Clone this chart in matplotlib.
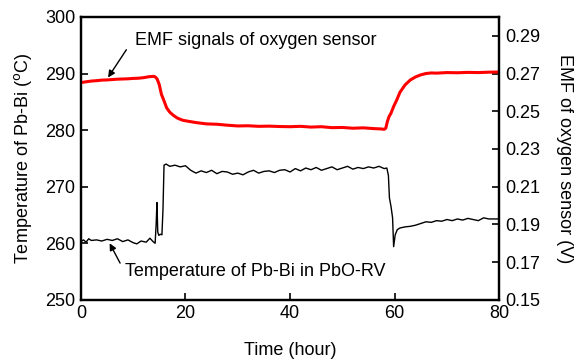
import matplotlib
matplotlib.use("Agg")
import matplotlib.pyplot as plt

plt.rcParams['font.family'] = ['Liberation Sans', 'DejaVu Sans']
plt.rcParams['font.size'] = 13

# EMF of oxygen sensor (V)
emf_time = [0, 1, 2, 3, 4, 5, 6, 7, 8, 9, 10, 11, 12, 13, 14,
            14.3, 14.6, 15.0, 15.4, 15.9, 16.4, 17.0, 17.7, 18.5, 19.5, 20.5,
            22, 24, 26, 28, 30, 32, 34, 36, 38, 40, 42, 44, 46, 48, 50, 52, 54, 56,
            57.5, 58.0, 58.3, 58.6, 58.9, 59.3, 59.8, 60.4, 61.0,
            62, 63, 64, 65, 66, 67, 68,
            70, 72, 74, 76, 78, 80]
emf_volt = [0.2652, 0.2656, 0.2660, 0.2662, 0.2665, 0.2666, 0.2668, 0.2670,
            0.2671, 0.2672, 0.2674, 0.2675, 0.2678, 0.2683, 0.2685,
            0.2680, 0.2670, 0.2640, 0.2590, 0.2555, 0.2518, 0.2495, 0.2478,
            0.2463, 0.2452, 0.2447,
            0.2440, 0.2433, 0.2431, 0.2426, 0.2422, 0.2423, 0.2420, 0.2421,
            0.2419, 0.2418, 0.2420, 0.2416, 0.2418, 0.2413, 0.2414, 0.2410,
            0.2412, 0.2408,
            0.2406, 0.2404, 0.2410, 0.2445, 0.2470, 0.2490, 0.2525, 0.2560, 0.2600,
            0.2640, 0.2666, 0.2682, 0.2693, 0.2700, 0.2703, 0.2702,
            0.2705, 0.2704, 0.2706, 0.2705, 0.2707, 0.2708]

# Temperature of Pb-Bi in PbO-RV (deg C)
temp_time = [0, 0.5, 1, 1.5, 2, 3, 4, 5, 6, 7, 8, 9, 10, 10.7, 11.5, 12.5,
             13.2, 13.8, 14.2, 14.4, 14.55, 14.7, 14.9, 15.2, 15.5, 15.7, 15.9,
             16.3, 17,
             18, 19, 20, 21, 22, 23, 24, 25, 26, 27, 28, 29, 30, 31, 32, 33, 34,
             35, 36, 37, 38, 39, 40, 41, 42, 43, 44, 45, 46, 47, 48, 49, 50, 51,
             52, 53, 54, 55, 56, 57, 58,
             58.5, 58.8, 59.0, 59.3, 59.6, 59.8, 60.1, 60.5, 61,
             62, 63, 64, 65, 66, 67, 68, 69, 70, 71, 72, 73, 74, 75, 76, 77, 78,
             79, 80]
temp_c = [260.3, 260.6, 260.2, 260.8, 260.5, 260.6, 260.4, 260.7, 260.5, 260.8,
          260.3, 260.6, 260.1, 259.9, 260.4, 260.2,
          260.9, 260.3, 260.0, 263.5, 267.2, 262.0, 261.4, 261.6, 261.5, 266.0,
          273.8, 274.0, 273.6,
          273.8, 273.5, 273.7, 272.9, 272.4, 272.8, 272.5, 272.9, 272.3, 272.7,
          272.6, 272.2, 272.4, 272.1, 272.6, 272.9, 272.4, 272.7, 272.8, 272.5,
          272.9, 273.0, 272.6, 273.2, 272.8, 273.3, 273.0, 273.4, 272.9, 273.2,
          273.5, 273.0, 273.3, 273.6, 273.1, 273.4, 273.2, 273.5, 273.3, 273.6,
          273.2,
          273.3, 272.0, 268.0, 266.5, 264.5, 259.4, 261.5, 262.4, 262.7,
          262.9, 263.0, 263.2, 263.5, 263.8, 263.7, 264.0, 263.9, 264.2, 264.0,
          264.3, 264.1, 264.4, 264.2, 264.0, 264.5, 264.3, 264.3, 264.3]

x_ticks = [0, 20, 40, 60, 80]
left_ticks = [250, 260, 270, 280, 290, 300]
right_ticks = [0.15, 0.17, 0.19, 0.21, 0.23, 0.25, 0.27, 0.29]

fig = plt.figure(figsize=(5.86, 3.6), dpi=100)
ax = fig.add_axes([0.138, 0.167, 0.714, 0.786])
ax2 = ax.twinx()

ax.plot(temp_time, temp_c, color='black', lw=1.0)
ax2.plot(emf_time, emf_volt, color='red', lw=2.2)

ax.set_xlim(0, 80)
ax.set_ylim(250, 300)
ax2.set_ylim(0.15, 0.30)
ax.set_xticks(x_ticks)
ax.set_yticks(left_ticks)
ax2.set_yticks(right_ticks)
ax2.set_yticklabels(['%.2f' % v for v in right_ticks])

for a in (ax, ax2):
    a.tick_params(direction='in', length=5, width=1.2, pad=4, labelsize=13)
    for s in a.spines.values():
        s.set_linewidth(1.6)

ax.set_xlabel('Time (hour)', fontsize=13, labelpad=14)
ax.set_ylabel('Temperature of Pb-Bi ($^{\\rm o}$C)', fontsize=13, labelpad=8)
ax2.set_ylabel('EMF of oxygen sensor (V)', fontsize=13, rotation=270, labelpad=24)

# labels and their arrows (arrow tails sit just off the text)
arrow = dict(arrowstyle='-|>', color='black', lw=1.0, mutation_scale=10,
             shrinkA=0, shrinkB=0)
ax.text(10.3, 295.9, 'EMF signals of oxygen sensor', fontsize=13, va='center', ha='left')
ax.annotate('', xy=(5.2, 289.3), xytext=(8.7, 294.2), arrowprops=arrow)
ax.text(8.4, 255.0, 'Temperature of Pb-Bi in PbO-RV', fontsize=13, va='center', ha='left')
ax.annotate('', xy=(5.5, 260.0), xytext=(7.5, 256.5), arrowprops=arrow)

fig.savefig('out.png', dpi=100)
